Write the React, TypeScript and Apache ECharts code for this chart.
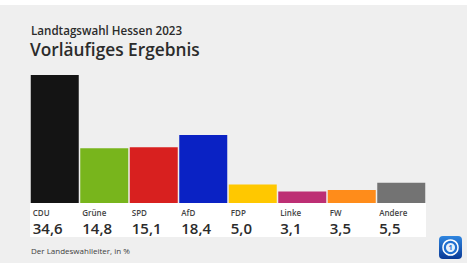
import React, { useEffect, useRef } from "react";
import * as echarts from "echarts";

const parties = ["CDU", "Grüne", "SPD", "AfD", "FDP", "Linke", "FW", "Andere"];
const results = [34.6, 14.8, 15.1, 18.4, 5.0, 3.1, 3.5, 5.5];
const partyColors = ["#141414", "#78b51c", "#d8201f", "#0a22c4", "#ffc800", "#bd2f74", "#ff8c1a", "#737373"];

const supTitle = "Landtagswahl Hessen 2023";
const mainTitle = "Vorläufiges Ergebnis";
const sourceText = "Der Landeswahlleiter, in %";

const FAMILY = "'Open Sans', 'Noto Sans', sans-serif";

export default function App() {
  const ref = useRef<HTMLDivElement>(null);
  useEffect(() => {
    if (!ref.current) return;
    const chart = echarts.init(ref.current, null, { renderer: "svg" });
    chart.setOption({
      animation: false,
      backgroundColor: "#ffffff",
      grid: { left: 30, right: 42, top: 75, bottom: 61 },
      xAxis: {
        type: "category",
        data: parties,
        show: false,
      },
      yAxis: { type: "value", min: 0, max: 34.6, show: false },
      graphic: [
        { type: "rect", z: -10, shape: { x: 0, y: 5, width: 467, height: 258 }, style: { fill: "#efefef" } },
        { type: "rect", z: -5, shape: { x: 30, y: 203, width: 396, height: 34 }, style: { fill: "#ffffff" } },
        {
          type: "text", x: 31, y: 30,
          style: { text: supTitle, fontSize: 11.6, fontWeight: 600, fontFamily: FAMILY, fill: "#2b2b2b", verticalAlign: "middle" },
        },
        {
          type: "text", x: 30, y: 49,
          style: { text: mainTitle, fontSize: 17.3, fontWeight: 600, fontFamily: FAMILY, fill: "#2b2b2b", verticalAlign: "middle" },
        },
        {
          type: "text", x: 31, y: 250,
          style: { text: sourceText, fontSize: 8, fontWeight: 400, fontFamily: FAMILY, fill: "#404040", verticalAlign: "middle" },
        },
        {
          type: "group", x: 439, y: 236,
          children: [
            {
              type: "rect", shape: { x: 0, y: 0, width: 23, height: 23, r: 4 },
              style: {
                fill: new echarts.graphic.LinearGradient(0, 0, 0, 1, [
                  { offset: 0, color: "#2f86e0" },
                  { offset: 1, color: "#0a3a96" },
                ]),
              },
            },
            { type: "circle", shape: { cx: 11.5, cy: 11.5, r: 7.5 }, style: { fill: "#1f6fd0", stroke: "#ffffff", lineWidth: 1.5 } },
            { type: "circle", shape: { cx: 11.5, cy: 11.5, r: 4.5 }, style: { fill: "#e8f1fb" } },
            { type: "text", x: 11.5, y: 11.8, style: { text: "1", fontSize: 7, fontWeight: 700, fontFamily: FAMILY, fill: "#1f6fd0", align: "center", verticalAlign: "middle" } },
          ],
        },
      ],
      series: [
        {
          type: "bar",
          barWidth: 48,
          data: results.map((v, i) => ({ value: v, itemStyle: { color: partyColors[i] } })),
          label: {
            show: true,
            position: "insideBottomLeft",
            distance: 0,
            verticalAlign: "top",
            align: "left",
            offset: [2, 3],
            formatter: (p: any) => `{n|${p.name}}\n{v|${p.value.toFixed(1).replace(".", ",")}}`,
            rich: {
              n: { fontSize: 8, fontWeight: 600, fontFamily: FAMILY, color: "#444444", lineHeight: 12 },
              v: { fontSize: 15, fontWeight: 600, fontFamily: FAMILY, color: "#2b2b2b", lineHeight: 20 },
            },
          },
        },
      ],
    });
    return () => chart.dispose();
  }, []);
  return <div ref={ref} style={{ position: "absolute", left: 0, top: 0, width: 468, height: 264 }} />;
}
